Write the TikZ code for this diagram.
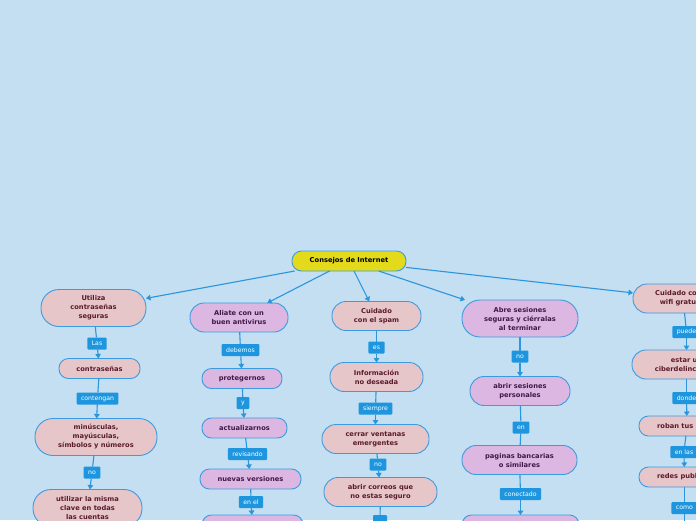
\documentclass[tikz,border=0pt]{standalone}
\usepackage{fontspec}
\setmainfont{DejaVu Sans}
\usepackage{xcolor}
\usepackage{tikz}
\usetikzlibrary{
    positioning,
    arrows.meta
}

\definecolor{mapbg}{HTML}{C3DFF1}
\definecolor{linkblue}{HTML}{2B95DD}
\definecolor{edgeblue}{HTML}{3C9BE0}
\definecolor{tagblue}{HTML}{1E96DF}
\definecolor{rootyellow}{HTML}{E3DA1C}
\definecolor{pinkfill}{HTML}{E7C6CA}
\definecolor{purplefill}{HTML}{DCB7E1}
\definecolor{pinktext}{HTML}{5A1B2C}
\definecolor{purpletext}{HTML}{411848}

\begin{document}
\begin{tikzpicture}[x=1pt, y=-1pt,
        idea/.style={draw=edgeblue, line width=0.9pt, outer sep=0pt, align=center, font=\fontsize{6.7}{9}\selectfont\bfseries, inner ysep=4pt, inner xsep=4pt},
        one/.style={minimum height=20pt, rounded corners=9.5pt},
        two/.style={minimum height=29pt, rounded corners=14pt},
        three/.style={minimum height=37pt, rounded corners=18pt},
        pinkidea/.style={idea, fill=pinkfill, text=pinktext},
        purpleidea/.style={idea, fill=purplefill, text=purpletext},
        tag/.style={fill=tagblue, text=white, outer sep=0pt, rounded corners=1pt, font=\fontsize{6.2}{7}\selectfont, minimum height=12pt, inner xsep=4.5pt, inner ysep=0pt},
        link/.style={draw=linkblue, line width=1.1pt},
        arrow/.style={link, -{Triangle[width=5.5pt,length=4.5pt]}}
      ]

      \useasboundingbox (0,0) rectangle (696,520);
      \clip (0,0) rectangle (696,520);
      \fill[mapbg] (0,0) rectangle (696,520);

      \node[idea, one, fill=rootyellow, text=black, minimum width=114pt] (root) at (349,261) {Consejos de Internet};

      % contrasenas
      \node[pinkidea, three, minimum width=105pt] (safe) at (93.5,308) {Utiliza\\contraseñas\\seguras};
      \node[tag, below=11pt of safe, xshift=3.5pt] (tLas) {Las};
      \node[pinkidea, one, minimum width=81pt, below=9pt of tLas, xshift=2.5pt] (pw) {contraseñas};
      \node[tag, below=14pt of pw, xshift=-2pt] (tContengan) {contengan};
      \node[pinkidea, three, minimum width=122pt, below=14pt of tContengan, xshift=-1.5pt] (mix) {minúsculas,\\mayúsculas,\\símbolos y números};
      \node[tag, below=11pt of mix, xshift=-4pt] (tNoA) {no};
      \node[pinkidea, three, minimum width=109pt, below=11pt of tNoA, xshift=-4.5pt] (same) {utilizar la misma\\clave en todas\\las cuentas};

      % antivirus
      \node[purpleidea, two, minimum width=98pt] (av) at (239,317.5) {Aliate con un\\buen antivirus};
      \node[tag, below=12pt of av, xshift=1.5pt] (tDebemos) {debemos};
      \node[purpleidea, one, minimum width=80pt, below=12.5pt of tDebemos, xshift=1.5pt] (prot) {protegernos};
      \node[tag, below=8.5pt of prot, xshift=1pt] (tY) {y};
      \node[purpleidea, one, minimum width=85pt, below=9pt of tY, xshift=1.5pt] (upd) {actualizarnos};
      \node[tag, below=10pt of upd, xshift=3pt] (tRev) {revisando};
      \node[purpleidea, one, minimum width=101pt, below=9pt of tRev, xshift=3pt] (vers) {nuevas versiones};
      \node[tag, below=7pt of vers, xshift=0.5pt] (tEnEl) {en el};
      \node[purpleidea, one, minimum width=101pt, below=7pt of tEnEl, xshift=1.5pt] (avEnd) {};

      % spam
      \node[pinkidea, two, minimum width=89pt] (spam) at (376.5,316) {Cuidado\\con el spam};
      \node[tag, below=11pt of spam] (tEs) {es};
      \node[pinkidea, two, minimum width=93pt, below=9pt of tEs] (junk) {Información\\no deseada};
      \node[tag, below=11pt of junk, xshift=-1pt] (tSiempre) {siempre};
      \node[pinkidea, two, minimum width=107pt, below=10pt of tSiempre] (pop) {cerrar ventanas\\emergentes};
      \node[tag, below=5pt of pop, xshift=2.5pt] (tNoC) {no};
      \node[pinkidea, two, minimum width=113pt, below=7pt of tNoC, xshift=2.5pt] (mail) {abrir correos que\\no estas seguro};
      \node[tag, minimum width=14pt, below=8.5pt of mail, xshift=-0.5pt] (tMail) {};

      % sesiones
      \node[purpleidea, three, minimum width=116pt] (sess) at (520,318.5) {Abre sesiones\\seguras y ciérralas\\al terminar};
      \node[tag, below=13.5pt of sess] (tNoD) {no};
      \node[purpleidea, two, minimum width=100pt, below=14pt of tNoD] (open) {abrir sesiones\\personales};
      \node[tag, below=16pt of open, xshift=1pt] (tEn) {en};
      \node[purpleidea, two, minimum width=115pt, below=12pt of tEn, xshift=-1.5pt] (bank) {paginas bancarias\\o similares};
      \node[tag, below=13.5pt of bank, xshift=1pt] (tCon) {conectado};
      \node[purpleidea, one, minimum width=117pt, below=15pt of tCon] (sessEnd) {};

      % wifi
      \node[pinkidea, two, minimum width=100pt] (wifi) at (683,298.5) {Cuidado con el\\wifi gratuito};
      \node[tag, below=13pt of wifi, xshift=3.5pt] (tPuede) {puede};
      \node[pinkidea, two, minimum width=109pt, below=12pt of tPuede] (cyber) {estar un\\ciberdelincuente};
      \node[tag, below=13pt of cyber] (tDonde) {donde};
      \node[pinkidea, one, minimum width=96pt, below=12pt of tDonde, xshift=0.5pt] (data) {roban tus datos};
      \node[tag, below=10pt of data, xshift=-3pt] (tEnLas) {en las};
      \node[pinkidea, one, minimum width=91pt, below=9pt of tEnLas, xshift=0.5pt] (pub) {redes publicas};
      \node[tag, below=15pt of pub] (tComo) {como};
      \coordinate[below=12pt of tComo] (comoEnd);

      \foreach \head in {safe, av, spam, sess, wifi}
        \draw[arrow] (root) -- (\head);

      \foreach \from/\to in {safe/tLas, pw/tContengan, mix/tNoA,
                             av/tDebemos, prot/tY, upd/tRev, vers/tEnEl,
                             spam/tEs, junk/tSiempre, pop/tNoC, mail/tMail,
                             sess/tNoD, open/tEn, tEn/bank, bank/tCon,
                             wifi/tPuede, cyber/tDonde, data/tEnLas, pub/tComo, tComo/comoEnd}
        \draw[link] (\from) -- (\to);

      \foreach \from/\to in {tLas/pw, tContengan/mix, tNoA/same,
                             tDebemos/prot, tY/upd, tRev/vers, tEnEl/avEnd,
                             tEs/junk, tSiempre/pop, tNoC/mail,
                             tNoD/open, tCon/sessEnd,
                             tPuede/cyber, tDonde/data, tEnLas/pub}
        \draw[arrow] (\from) -- (\to);
    \end{tikzpicture}
\end{document}
